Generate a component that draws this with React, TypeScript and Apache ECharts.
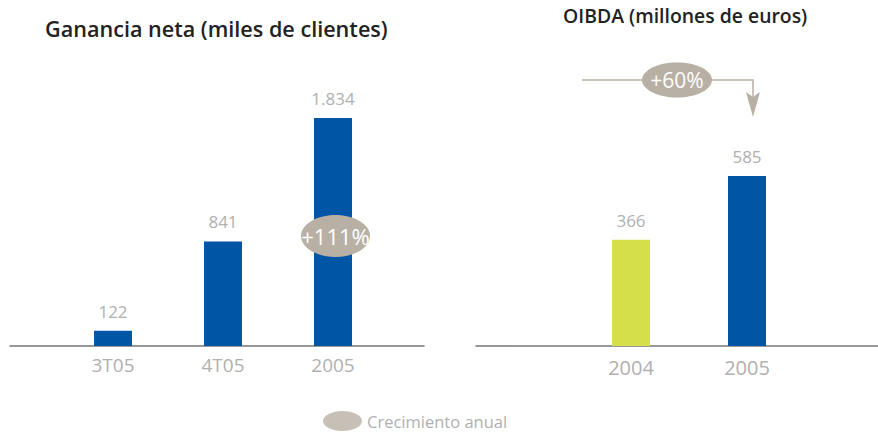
import React, { useEffect, useRef } from "react";
import * as echarts from "echarts";

const leftCategories = ["3T05", "4T05", "2005"];
const leftValues = [122, 841, 1834];
const rightCategories = ["2004", "2005"];
const rightValues = [366, 585];
const rightColors = ["#D4DF4A", "#0055A5"];
const leftTitle = "Ganancia neta (miles de clientes)";
const rightTitle = "OIBDA (millones de euros)";
const leftGrowth = "+111%";
const rightGrowth = "+60%";
const legendName = "Crecimiento anual";

const BLUE = "#0055A5";
const GREY_TXT = "#B0B0B0";
const BADGE = "#B8B0A5";
const FONT = "'Open Sans', 'Noto Sans', sans-serif";

const fmt = (v: number) => String(v).replace(/\B(?=(\d{3})+(?!\d))/g, ".");

const ELLIPSE_PATH = "path://M0,50 A50,50 0 1,1 100,50 A50,50 0 1,1 0,50 Z";

export default function App() {
  const ref = useRef<HTMLDivElement>(null);
  useEffect(() => {
    if (!ref.current) return;
    const chart = echarts.init(ref.current, null, { renderer: "svg" });
    const catAxis = (gridIndex: number, data: string[], margin: number, fontSize: number) => ({
      type: "category",
      gridIndex,
      data,
      axisLine: { show: false },
      axisTick: { show: false },
      axisLabel: { color: GREY_TXT, fontSize, fontFamily: FONT, margin },
    });
    const lineAxis = (gridIndex: number) => ({
      type: "value",
      gridIndex,
      min: 0,
      max: 1,
      axisLine: { show: true, onZero: false, lineStyle: { color: "#777777", width: 1.5 } },
      axisTick: { show: false },
      axisLabel: { show: false },
      splitLine: { show: false },
    });
    const hiddenY = (gridIndex: number, max?: any) => ({
      type: "value",
      gridIndex,
      min: 0,
      max: max,
      show: false,
      splitLine: { show: false },
    });
    const barLabel = {
      show: true,
      position: "top",
      distance: 11,
      color: GREY_TXT,
      fontSize: 17,
      fontFamily: FONT,
      formatter: (p: any) => fmt(p.value),
    };
    chart.setOption({
      animation: false,
      title: [
        {
          text: leftTitle,
          left: 45,
          top: 17,
          padding: 0,
          textStyle: { fontSize: 21.6, fontWeight: 600, color: "#222222", fontFamily: FONT },
        },
        {
          text: rightTitle,
          left: 563,
          top: 6,
          padding: 0,
          textStyle: { fontSize: 19.4, fontWeight: 600, color: "#222222", fontFamily: FONT },
        },
      ],
      legend: {
        left: 323,
        top: 411,
        padding: 0,
        icon: ELLIPSE_PATH,
        itemWidth: 39,
        itemHeight: 20,
        symbolKeepAspect: false,
        data: [legendName],
        textStyle: { color: GREY_TXT, fontSize: 16.5, fontFamily: FONT },
        selectedMode: false,
      },
      grid: [
        { left: 58, width: 330, top: 118, height: 228 },
        { left: 573, width: 232, top: 176, height: 170 },
        { left: 10, width: 414, top: 118, height: 228 },
        { left: 476, width: 402, top: 118, height: 228 },
      ],
      xAxis: [
        catAxis(0, leftCategories, 9, 19),
        catAxis(1, rightCategories, 11, 20),
        lineAxis(2),
        lineAxis(3),
      ],
      yAxis: [hiddenY(0, "dataMax"), hiddenY(1, "dataMax"), hiddenY(2, 1), hiddenY(3, 1)],
      series: [
        {
          type: "bar",
          xAxisIndex: 0,
          yAxisIndex: 0,
          data: leftValues,
          barWidth: 38,
          itemStyle: { color: BLUE },
          label: barLabel,
        },
        {
          type: "bar",
          xAxisIndex: 1,
          yAxisIndex: 1,
          data: rightValues.map((v, i) => ({ value: v, itemStyle: { color: rightColors[i] } })),
          barWidth: 38,
          label: barLabel,
        },
        {
          type: "scatter",
          name: legendName,
          xAxisIndex: 2,
          yAxisIndex: 2,
          data: [],
          symbol: ELLIPSE_PATH,
          symbolKeepAspect: false,
          itemStyle: { color: BADGE },
        },
      ],
      graphic: [
        {
          type: "polyline",
          z: 100,
          shape: { points: [[582, 80], [753, 80], [753, 100]] },
          style: { stroke: BADGE, lineWidth: 1.5, fill: null },
        },
        {
          type: "polygon",
          z: 100,
          shape: { points: [[746, 92], [753, 97], [760, 92], [753, 117]] },
          style: { fill: BADGE },
        },
        {
          type: "ellipse",
          z: 101,
          shape: { cx: 677, cy: 80, rx: 35, ry: 17.5 },
          style: { fill: BADGE },
        },
        {
          type: "text",
          z: 102,
          x: 677,
          y: 80,
          style: {
            text: rightGrowth,
            fill: "#FFFFFF",
            fontSize: 21,
            fontFamily: FONT,
            align: "center",
            verticalAlign: "middle",
          },
        },
        {
          type: "ellipse",
          z: 101,
          shape: { cx: 335.5, cy: 236, rx: 34.5, ry: 21 },
          style: { fill: BADGE },
        },
        {
          type: "text",
          z: 102,
          x: 335.5,
          y: 236,
          style: {
            text: leftGrowth,
            fill: "#FFFFFF",
            fontSize: 22,
            fontFamily: FONT,
            align: "center",
            verticalAlign: "middle",
          },
        },
      ],
    });
    return () => chart.dispose();
  }, []);
  return (
    <div
      ref={ref}
      style={{ position: "absolute", left: 0, top: 0, width: 878, height: 432, background: "#fff" }}
    />
  );
}
